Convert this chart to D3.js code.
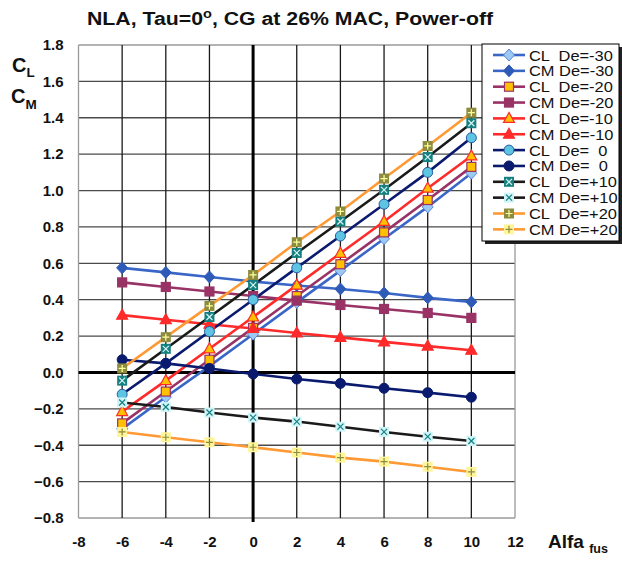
<!DOCTYPE html>
<html>
<head>
<meta charset="utf-8">
<script src="https://cdn.jsdelivr.net/npm/d3@7"></script>
<style>
  body { margin: 0; background: #fff; }
  svg { font-family: "Liberation Sans", Arial, sans-serif; }
</style>
</head>
<body>
<div id="chart"></div>
<script>
// angle of attack (deg)
const alfa = [-6, -4, -2, 0, 2, 4, 6, 8, 10];

// CL and CM per elevator deflection
const clM30 = [-0.31, -0.135, 0.035, 0.21, 0.385, 0.56, 0.735, 0.91, 1.095];
const cmM30 = [0.575, 0.55, 0.525, 0.50, 0.478, 0.459, 0.437, 0.41, 0.388];
const clM20 = [-0.28, -0.105, 0.07, 0.245, 0.42, 0.595, 0.77, 0.948, 1.13];
const cmM20 = [0.495, 0.47, 0.445, 0.42, 0.395, 0.371, 0.349, 0.327, 0.30];
const clM10 = [-0.215, -0.045, 0.13, 0.305, 0.48, 0.655, 0.83, 1.013, 1.19];
const cmM10 = [0.315, 0.29, 0.265, 0.242, 0.217, 0.193, 0.168, 0.145, 0.122];
const cl0 = [-0.12, 0.05, 0.225, 0.40, 0.575, 0.75, 0.925, 1.10, 1.29];
const cm0 = [0.07, 0.05, 0.022, -0.008, -0.036, -0.06, -0.087, -0.111, -0.136];
const clP10 = [-0.045, 0.13, 0.305, 0.48, 0.657, 0.83, 1.004, 1.184, 1.37];
const cmP10 = [-0.165, -0.19, -0.22, -0.248, -0.27, -0.298, -0.327, -0.353, -0.377];
const clP20 = [0.022, 0.194, 0.366, 0.536, 0.716, 0.885, 1.066, 1.245, 1.428];
const cmP20 = [-0.327, -0.356, -0.384, -0.411, -0.44, -0.468, -0.49, -0.518, -0.547];

const legendNames = ["CL  De=-30", "CM De=-30", "CL  De=-20", "CM De=-20", "CL  De=-10", "CM De=-10",
  "CL  De=  0", "CM De=  0", "CL  De=+10", "CM De=+10", "CL  De=+20", "CM De=+20"];
const xTicks = [-8, -6, -4, -2, 0, 2, 4, 6, 8, 10, 12];

const W = 622, H = 561;
const svg = d3.select("#chart").append("svg")
  .attr("width", W).attr("height", H);

const x = d3.scaleLinear().domain([-8, 12]).range([78.5, 515]);
const y = d3.scaleLinear().domain([-0.8, 1.8]).range([518, 45]);

// marker styles
const series = [
  { v: clM30, line: "#3a66c8", sym: "diamond", fill: "#9cc8f4", stroke: "#5a86d8" },
  { v: cmM30, line: "#3a66c8", sym: "diamond", fill: "#2f5bb8", stroke: "#2f5bb8" },
  { v: clM20, line: "#993366", sym: "square", fill: "#ffc000", stroke: "#993366" },
  { v: cmM20, line: "#993366", sym: "square", fill: "#993366", stroke: "#993366" },
  { v: clM10, line: "#ff2a2a", sym: "triangle", fill: "#ffc000", stroke: "#ff2a2a" },
  { v: cmM10, line: "#ff2a2a", sym: "triangle", fill: "#ff2a2a", stroke: "#ff2a2a" },
  { v: cl0, line: "#0a1a6e", sym: "circle", fill: "#5ec4e4", stroke: "#2a5ca0" },
  { v: cm0, line: "#0a1a6e", sym: "circle", fill: "#0a1a6e", stroke: "#0a1a6e" },
  { v: clP10, line: "#1a1a1a", sym: "sqx", fill: "#168080", stroke: "#168080", mark: "#d8f4f4" },
  { v: cmP10, line: "#1a1a1a", sym: "sqx", fill: "#cef4f8", stroke: "#cef4f8", mark: "#168080" },
  { v: clP20, line: "#ff9933", sym: "sqp", fill: "#8c8c3c", stroke: "#8c8c3c", mark: "#ffffa0" },
  { v: cmP20, line: "#ff9933", sym: "sqp", fill: "#fff59a", stroke: "#fff59a", mark: "#8c8c3c" }
];

// grid
const grid = svg.append("g");
y.ticks(13).forEach(t => {
  grid.append("line")
    .attr("x1", x(-8)).attr("x2", x(12))
    .attr("y1", y(t)).attr("y2", y(t))
    .attr("stroke", t === 1.8 || t === -0.8 ? "#9a9a9a" : "#4a4a4a")
    .attr("stroke-width", 1.3);
});
xTicks.forEach(t => {
  grid.append("line")
    .attr("x1", x(t)).attr("x2", x(t))
    .attr("y1", y(1.8)).attr("y2", y(-0.8))
    .attr("stroke", t === -8 || t === 12 ? "#9a9a9a" : "#1a1a1a")
    .attr("stroke-width", 1.3);
});
// zero axes
grid.append("line")
  .attr("x1", x(-8)).attr("x2", x(12))
  .attr("y1", y(0)).attr("y2", y(0))
  .attr("stroke", "#000").attr("stroke-width", 3);
grid.append("line")
  .attr("x1", x(0)).attr("x2", x(0))
  .attr("y1", y(1.8)).attr("y2", y(-0.8) + 4)
  .attr("stroke", "#000").attr("stroke-width", 3);

// axis labels via d3 axes
const yAxis = svg.append("g")
  .attr("transform", `translate(${x(-8)},0)`)
  .call(d3.axisLeft(y).ticks(13).tickSize(0).tickPadding(15).tickFormat(d3.format(".1f")));
const xAxis = svg.append("g")
  .attr("transform", `translate(0,${y(-0.8)})`)
  .call(d3.axisBottom(x).tickValues(xTicks).tickSize(0).tickPadding(18).tickFormat(d3.format("d")));
[yAxis, xAxis].forEach(a => {
  a.select(".domain").remove();
  a.selectAll("text")
    .attr("font-family", "'Liberation Sans', Arial, sans-serif")
    .attr("font-size", 15).attr("font-weight", "bold").attr("fill", "#111");
});
xAxis.selectAll("text").text(d => d < 0 ? "-" + Math.abs(d) : d);

function drawMarker(g, s, cx, cy) {
  if (s.sym === "diamond") {
    g.append("path").attr("d", `M${cx},${cy - 6}L${cx + 5.5},${cy}L${cx},${cy + 6}L${cx - 5.5},${cy}Z`)
      .attr("fill", s.fill).attr("stroke", s.stroke).attr("stroke-width", 1);
  } else if (s.sym === "square") {
    g.append("rect").attr("x", cx - 4.5).attr("y", cy - 4.5).attr("width", 9).attr("height", 9)
      .attr("fill", s.fill).attr("stroke", s.stroke).attr("stroke-width", 1.2);
  } else if (s.sym === "triangle") {
    g.append("path").attr("d", `M${cx},${cy - 6}L${cx + 5.5},${cy + 4}L${cx - 5.5},${cy + 4}Z`)
      .attr("fill", s.fill).attr("stroke", s.stroke).attr("stroke-width", 1.2);
  } else if (s.sym === "circle") {
    g.append("circle").attr("cx", cx).attr("cy", cy).attr("r", 5)
      .attr("fill", s.fill).attr("stroke", s.stroke).attr("stroke-width", 1);
  } else {
    g.append("rect").attr("x", cx - 5).attr("y", cy - 5).attr("width", 10).attr("height", 10)
      .attr("fill", s.fill);
    const d = s.sym === "sqx"
      ? `M${cx - 3},${cy - 3}L${cx + 3},${cy + 3}M${cx - 3},${cy + 3}L${cx + 3},${cy - 3}`
      : `M${cx - 3.5},${cy}L${cx + 3.5},${cy}M${cx},${cy - 3.5}L${cx},${cy + 3.5}`;
    g.append("path").attr("d", d).attr("stroke", s.mark).attr("stroke-width", 1.2).attr("fill", "none");
  }
}

// series lines and markers
const lineGen = d3.line().x(d => x(d[0])).y(d => y(d[1]));
const plot = svg.append("g");
series.forEach(s => {
  const pts = alfa.map((a, i) => [a, s.v[i]]);
  plot.append("path").datum(pts).attr("d", lineGen)
    .attr("fill", "none").attr("stroke", s.line).attr("stroke-width", 2.6);
});
series.forEach(s => {
  const g = plot.append("g");
  alfa.forEach((a, i) => drawMarker(g, s, x(a), y(s.v[i])));
});

// legend
const lg = svg.append("g");
lg.append("rect").attr("x", 485).attr("y", 47).attr("width", 137).attr("height", 197).attr("fill", "#222");
lg.append("rect").attr("x", 482).attr("y", 44).attr("width", 137).attr("height", 197)
  .attr("fill", "#fff").attr("stroke", "#000").attr("stroke-width", 1);
series.forEach((s, i) => {
  const cy = 55 + i * 15.85;
  lg.append("line").attr("x1", 493).attr("x2", 525).attr("y1", cy).attr("y2", cy)
    .attr("stroke", s.line).attr("stroke-width", 2.6);
  drawMarker(lg, s, 509, cy);
  lg.append("text").attr("transform", `translate(529,${cy + 5.5}) scale(1.06,1)`)
    .attr("font-size", 15.5).attr("fill", "#111")
    .style("white-space", "pre")
    .text(legendNames[i]);
});

// title
const title = svg.append("text")
  .attr("transform", "translate(87,25) scale(1.12,1)")
  .attr("font-size", 19).attr("font-weight", "bold").attr("fill", "#111");
title.append("tspan").text("NLA, Tau=0");
title.append("tspan").attr("font-size", 13).attr("dy", -7).text("o");
title.append("tspan").attr("dy", 7).text(", CG at 26% MAC, Power-off");

// axis titles
const yl = svg.append("text").attr("font-weight", "bold").attr("fill", "#111");
yl.append("tspan").attr("x", 12).attr("y", 72).attr("font-size", 20).text("C");
yl.append("tspan").attr("dy", 5).attr("font-size", 13.5).text("L");
const ym = svg.append("text").attr("font-weight", "bold").attr("fill", "#111");
ym.append("tspan").attr("x", 11).attr("y", 103).attr("font-size", 20).text("C");
ym.append("tspan").attr("dy", 6).attr("font-size", 13.5).text("M");

const xl = svg.append("text").attr("x", 548).attr("y", 548)
  .attr("font-weight", "bold").attr("fill", "#111");
xl.append("tspan").attr("font-size", 19).text("Alfa ");
xl.append("tspan").attr("dy", 5).attr("font-size", 12.5).text("fus");
</script>
</body>
</html>
